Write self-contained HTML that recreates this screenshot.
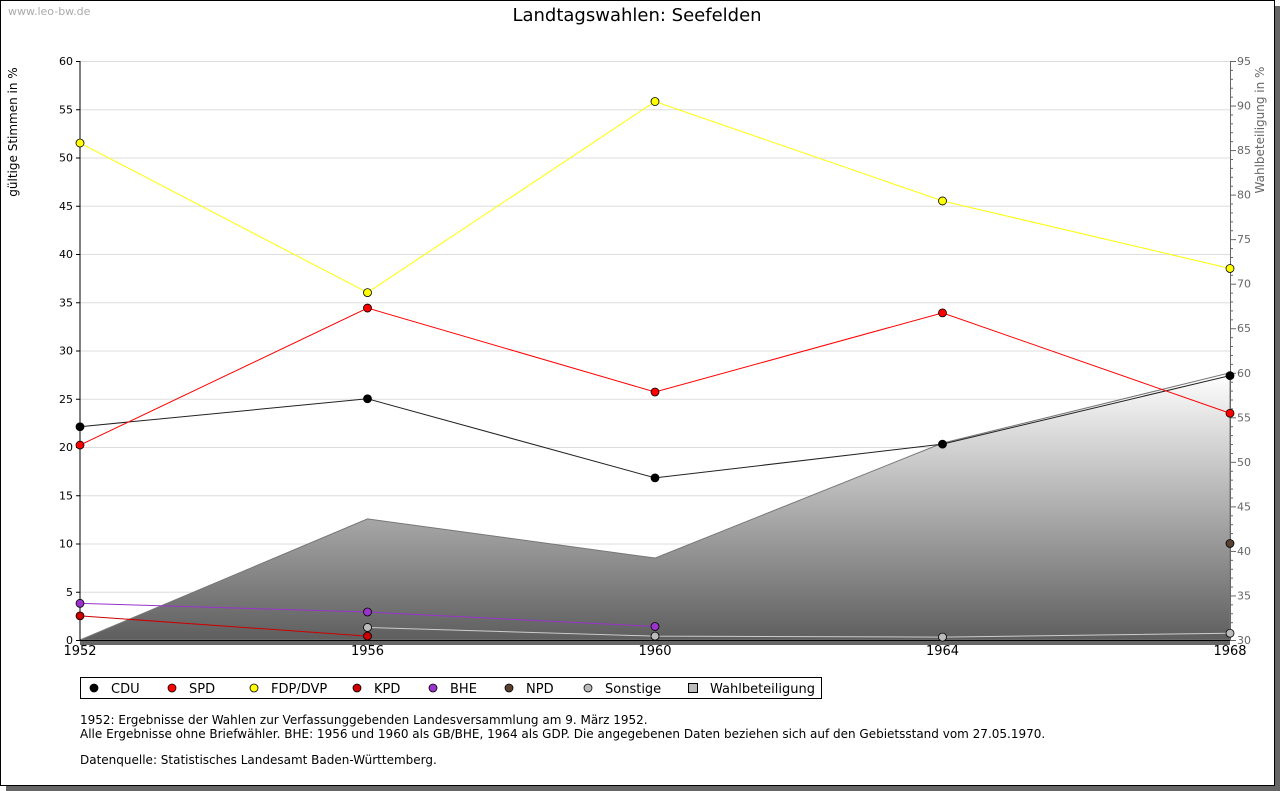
<!DOCTYPE html>
<html><head><meta charset="utf-8"><style>
body{margin:0;background:#fff;font-family:"Liberation Sans","DejaVu Sans",sans-serif;}
svg{display:block}
</style></head><body>
<svg width="1280" height="791" viewBox="0 0 1280 791" xmlns="http://www.w3.org/2000/svg" font-family="'DejaVu Sans','Liberation Sans',sans-serif">
<defs>
<linearGradient id="wg" x1="0" y1="0" x2="0" y2="1" gradientUnits="objectBoundingBox">
<stop offset="0" stop-color="#ffffff"/><stop offset="1" stop-color="#5e5e5e"/></linearGradient>
</defs>
<rect x="6" y="6" width="1274" height="785" fill="#666"/>
<rect x="0.5" y="0.5" width="1274" height="785" fill="#fff" stroke="#000"/>
<text x="8" y="15" font-size="11" fill="#aaa">www.leo-bw.de</text>
<text x="637" y="21" font-size="18" text-anchor="middle">Landtagswahlen: Seefelden</text>
<text transform="translate(17,132) rotate(-90)" font-size="12" text-anchor="middle">gültige Stimmen in %</text>
<text transform="translate(1264,130) rotate(-90)" font-size="12" fill="#666" text-anchor="middle">Wahlbeteiligung in %</text>
<g id="grid"></g>
<g id="area"></g>
<g id="axes"></g>
<g id="series"></g>
<g>
<rect x="80.5" y="677.5" width="741" height="21" fill="#fff" stroke="#000"/>
<g id="legend"></g>
</g>
<text font-size="12">
<tspan x="80" y="724">1952: Ergebnisse der Wahlen zur Verfassunggebenden Landesversammlung am 9. März 1952.</tspan>
<tspan x="80" y="738">Alle Ergebnisse ohne Briefwähler. BHE: 1956 und 1960 als GB/BHE, 1964 als GDP. Die angegebenen Daten beziehen sich auf den Gebietsstand vom 27.05.1970.</tspan>
<tspan x="80" y="764">Datenquelle: Statistisches Landesamt Baden-Württemberg.</tspan>
</text>
</svg>
<script>
const years=[1952,1956,1960,1964,1968];
const cdu=[22.1,25.0,16.8,20.3,27.4];
const spd=[20.2,34.4,25.7,33.9,23.5];
const fdp=[51.5,36.0,55.8,45.5,38.5];
const kpd=[2.5,0.4,null,null,null];
const bhe=[3.8,2.9,1.4,null,null];
const npd=[null,null,null,null,10.0];
const sonstige=[null,1.3,0.4,0.3,0.7];
const turnout=[30,43.6,39.2,52.1,60.0];
const leftTicks=[0,5,10,15,20,25,30,35,40,45,50,55,60];
const rightTicks=[30,35,40,45,50,55,60,65,70,75,80,85,90,95];
const NS="http://www.w3.org/2000/svg";
const X0=80,X1=1230,YB=640,YT=61;
const xS=y=>X0+(y-1952)/(1968-1952)*(X1-X0);
const yL=v=>YB-v/60*(YB-YT);
const yR=v=>YB-(v-30)/65*(YB-YT);
function mk(tag,attrs,parent){const e=document.createElementNS(NS,tag);for(const k in attrs)e.setAttribute(k,attrs[k]);parent.appendChild(e);return e;}
const grid=document.getElementById('grid'),axes=document.getElementById('axes'),area=document.getElementById('area'),ser=document.getElementById('series'),leg=document.getElementById('legend');
leftTicks.forEach(t=>{
 if(t>0){const l=mk('line',{x1:X0,x2:X1,y1:yL(t)+.5,y2:yL(t)+.5,stroke:'#ddd'},grid);
 
 }
 mk('line',{x1:X0-4,x2:X0,y1:yL(t)+.5,y2:yL(t)+.5,stroke:'#000'},axes);
 const tx=mk('text',{x:X0-7,y:yL(t)+4,'font-size':11,'text-anchor':'end'},axes);tx.textContent=t;
 
 
});
for(let v=30;v<=95;v++){mk('line',{x1:X1,x2:X1+(v%5==0?6:3),y1:yR(v)+.5,y2:yR(v)+.5,stroke:'#666'},axes);}
rightTicks.forEach(t=>{const tx=mk('text',{x:X1+7,y:yR(t)+4,'font-size':11,fill:'#666'},axes);tx.textContent=t;
 
 });
mk('rect',{x:X0,y:YB,width:X1-X0,height:5,fill:'#666'},area);
let pts=years.map((y,i)=>`${xS(y)},${yR(turnout[i])}`).join(' ')+` ${X1},${YB}`;
const poly=mk('polygon',{points:pts,fill:'url(#wg)',stroke:'#777'},area);


mk('line',{x1:X0,x2:X0,y1:YT,y2:YB,stroke:'#000'},axes);
mk('line',{x1:X1+.5,x2:X1+.5,y1:YT,y2:YB,stroke:'#666'},axes);
mk('line',{x1:X0,x2:X1,y1:YB+.5,y2:YB+.5,stroke:'#000'},axes);
years.forEach(y=>{const tx=mk('text',{x:xS(y),y:655,'font-size':13,'text-anchor':'middle'},axes);tx.textContent=y;
 
 });
function dot(cx,cy,fill,parent){return mk('circle',{cx:cx,cy:cy,r:4,fill:fill,stroke:'#000','stroke-width':0.8},parent);}
function series(name,data,line,marker){
 const g=mk('g',{},ser);
 
 
 const p=[];data.forEach((v,i)=>{if(v!=null)p.push([xS(years[i]),yL(v)]);});
 if(p.length>1)mk('polyline',{points:p.map(q=>q.join(',')).join(' '),fill:'none',stroke:line,'stroke-width':1},g);
 p.forEach(q=>{const d=dot(q[0],q[1],marker,g);
  
  });
}
series('sonstige',sonstige,'#ccc','#bbb');
series('kpd',kpd,'#c00','#c00');
series('bhe',bhe,'#9933cc','#9933cc');
series('npd',npd,'#5a4030','#5a4030');
series('cdu',cdu,'#222','#000');
series('spd',spd,'#f00','#f00');
series('fdp',fdp,'#ff0','#ff0');
const legItems=[['CDU','#000',94],['SPD','#f00',172],['FDP/DVP','#ff0',254],['KPD','#c00',357],['BHE','#9933cc',433],['NPD','#5a4030',509],['Sonstige','#bbb',588]];
legItems.forEach(([n,c,x])=>{const g=mk('g',{},leg);
 
 
 dot(x,688,c,g);
 const t=mk('text',{x:x+17,y:693,'font-size':13},g);t.textContent=n;});
const g=mk('g',{},leg);


mk('rect',{x:688.5,y:683.5,width:9,height:9,fill:'#bbb',stroke:'#000'},g);
const t=mk('text',{x:710,y:693,'font-size':13},g);t.textContent='Wahlbeteiligung';
</script>
</body></html>
